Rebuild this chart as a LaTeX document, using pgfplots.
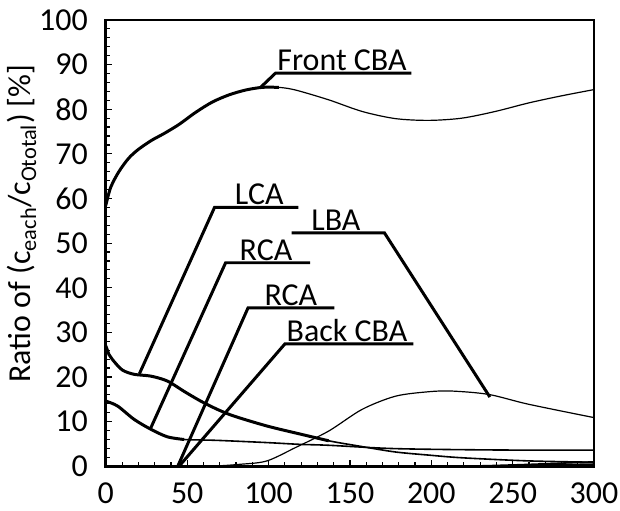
\documentclass[border=0pt]{standalone}
\usepackage{fontspec}
\setmainfont{Carlito}
\usepackage{pgfplots}
\pgfplotsset{compat=1.18}
\begin{document}
\fontsize{16}{19}\selectfont
\begin{tikzpicture}
\useasboundingbox (-53pt,-22pt) rectangle (257.5pt,233.5pt);
\begin{axis}[
  scale only axis, width=244.5pt, height=223.5pt,
  xmin=0, xmax=300, ymin=0, ymax=100,
  xtick={0,50,...,300}, ytick={0,10,...,100},
  minor x tick num=4, minor y tick num=4,
  tick align=inside, tick pos=left,
  major tick length=3pt, minor tick length=2pt,
  axis line style={line width=1.4pt},
  every tick/.style={black, line width=0.6pt},
  /pgf/number format/assume math mode=true,
  ticklabel style={font=\fontsize{16}{19}\selectfont},
  xticklabel style={yshift=-2.5pt},
  yticklabel style={xshift=-3.5pt},
  ylabel={Ratio of (c\textsubscript{each}/c\textsubscript{Ototal}) [\%]},
  ylabel style={at={(axis description cs:-0.172,0.544)}, anchor=center, font=\fontsize{16}{19}\selectfont},
]
% Front CBA
\addplot[black, line width=0.6pt, smooth] coordinates {
(0,58.5) (3,62.5) (8,66) (14,69) (20,71) (28,73) (36,74.6) (45,76.6) (55.2,79.3) (65.4,81.6) (75.6,83.2) (85.9,84.3) (96.1,84.9) (106.3,84.9) (116.6,84.3) (137,82.1) (157.5,79.5) (177.9,77.9) (198.4,77.5) (218.8,78) (239.3,79.5) (259.7,81.4) (280,83) (300,84.4)};
\addplot[black, line width=1.5pt, smooth] coordinates {
(0,58.5) (3,62.5) (8,66) (14,69) (20,71) (28,73) (36,74.6) (45,76.6) (55.2,79.3) (65.4,81.6) (75.6,83.2) (85.9,84.3) (96.1,84.9) (106.3,84.9)};
% LCA
\addplot[black, line width=0.8pt, smooth] coordinates {
(0,27) (2,25) (4.1,23.9) (10,21.6) (17.4,20.6) (27.6,20.2) (37.8,19.1) (48,16.8) (58.3,14.6) (68.5,12.75) (78.7,11.25) (99.2,9.0) (119.6,7.2) (137,5.7) (157.5,4.4) (177.9,3.2) (198.4,2.5) (218.8,1.9) (259.7,1.2) (300,0.9)};
\addplot[black, line width=1.5pt, smooth] coordinates {
(0,27) (2,25) (4.1,23.9) (10,21.6) (17.4,20.6) (27.6,20.2) (37.8,19.1) (48,16.8) (58.3,14.6) (68.5,12.75) (78.7,11.25) (99.2,9.0) (119.6,7.2) (137,5.7)};
% RCA
\addplot[black, line width=0.8pt, smooth] coordinates {
(0,14.6) (7.2,13.5) (17.4,10.5) (27.6,8.3) (37.8,6.6) (48,6.0) (68.5,5.8) (99.2,5.3) (119.6,4.9) (137,4.7) (178,3.95) (239,3.65) (300,3.6)};
\addplot[black, line width=1.5pt, smooth] coordinates {
(0,14.6) (7.2,13.5) (17.4,10.5) (27.6,8.3) (37.8,6.6) (48,6.0)};
% LBA
\addplot[black, line width=0.6pt, smooth] coordinates {
(0,0) (60,0) (82.8,0.45) (99,1.2) (116.6,4.2) (137,7.9) (157.5,12.75) (178,15.7) (198.4,16.7) (212.7,16.85) (235.2,16.1) (259.7,13.9) (300,10.9)};
% RCA (2)
\addplot[black, line width=0.8pt, smooth] coordinates {
(0,0) (200,0) (250,0.3) (300,1.0)};
% Back CBA
\addplot[black, line width=0.8pt, smooth] coordinates {
(0,0) (220,0) (270,0.3) (300,0.5)};
% callouts
\draw[line width=1.5pt] (axis cs:95.1,84.9) -- (axis cs:104.3,88.1) -- (axis cs:187.7,88.1);
\node[anchor=south, inner sep=1pt] at (axis cs:145.1,88.1) {Front CBA};
\draw[line width=1.5pt] (axis cs:20.6,20.7) -- (axis cs:66.8,58) -- (axis cs:118.3,58);
\node[anchor=south, inner sep=1pt] at (axis cs:94.3,58) {LCA};
\draw[line width=1.5pt] (axis cs:27.4,8.4) -- (axis cs:73.6,45.6) -- (axis cs:125.6,45.6);
\node[anchor=south, inner sep=1pt] at (axis cs:98.4,45.6) {RCA};
\draw[line width=1.5pt] (axis cs:44.2,0) -- (axis cs:87.4,35.5) -- (axis cs:140.4,35.5);
\node[anchor=south, inner sep=1pt] at (axis cs:113.7,35.5) {RCA};
\draw[line width=1.5pt] (axis cs:45,0) -- (axis cs:110,27.4) -- (axis cs:189,27.4);
\node[anchor=south, inner sep=1pt] at (axis cs:148.2,27.4) {Back CBA};
\draw[line width=1.5pt] (axis cs:236,15.5) -- (axis cs:171.2,52.3) -- (axis cs:114.2,52.3);
\node[anchor=south, inner sep=1pt] at (axis cs:141.4,52.3) {LBA};
\end{axis}
\end{tikzpicture}
\end{document}
